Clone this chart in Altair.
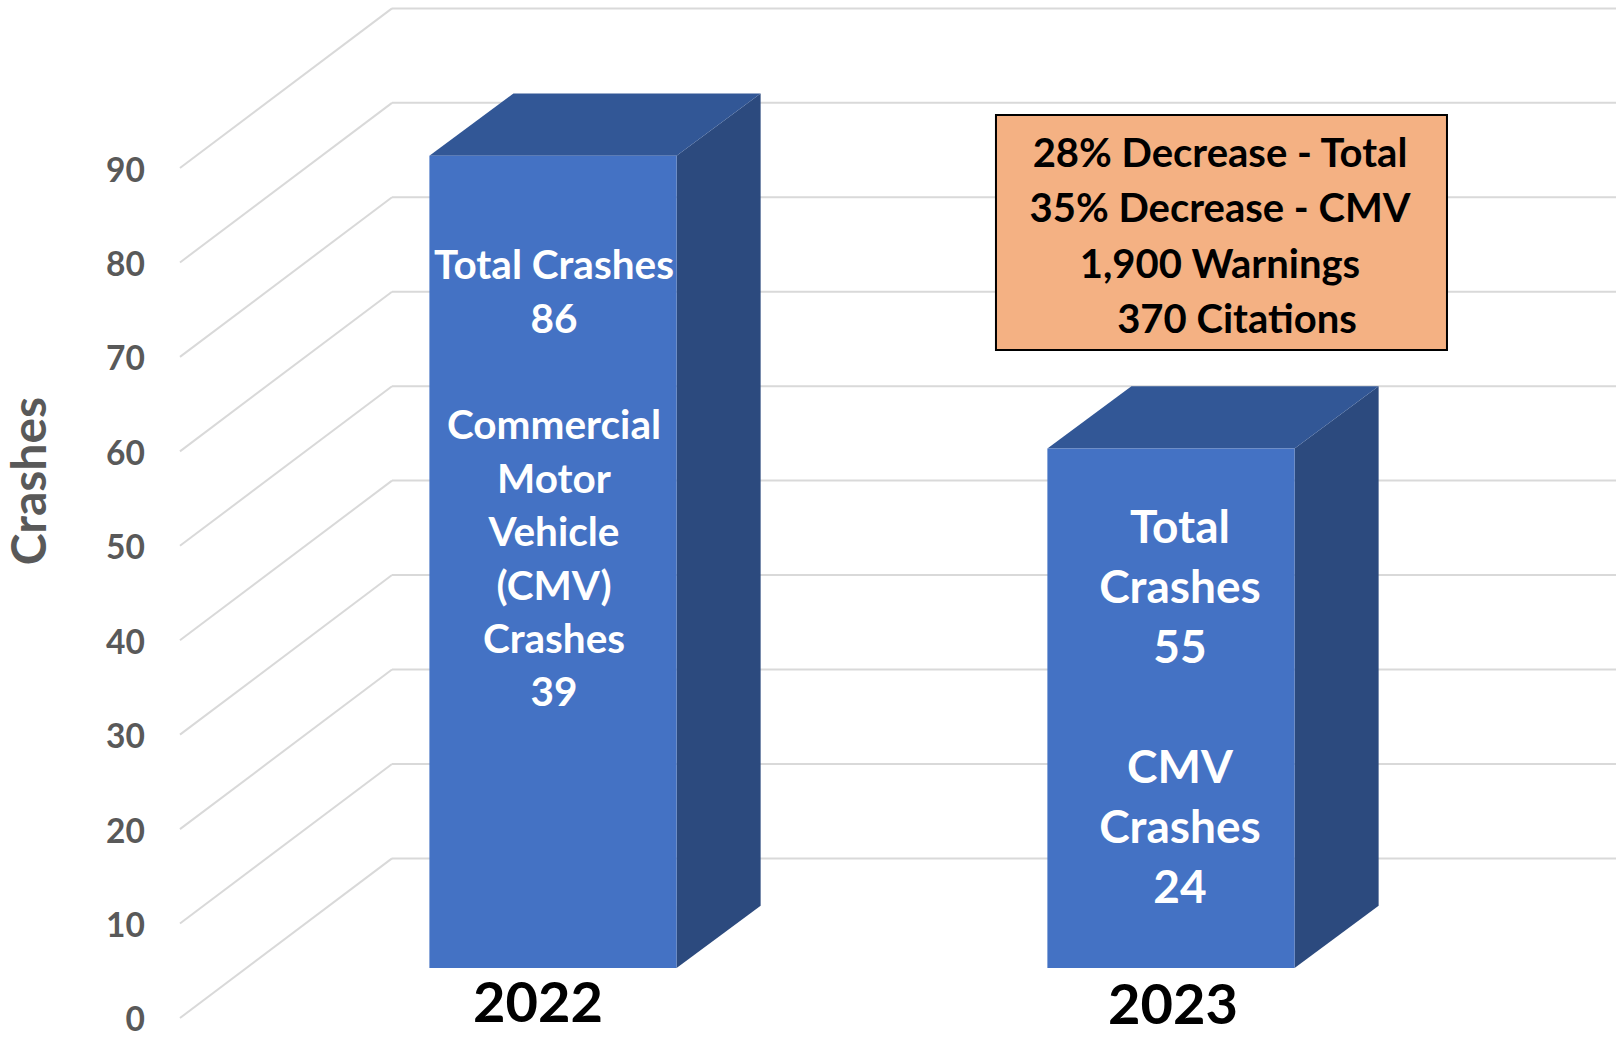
import altair as alt
import pandas as pd

# ---------------- data ----------------
years = ["2022", "2023"]
total_crashes = [86, 55]
cmv_crashes = [39, 24]
y_ticks = [0, 10, 20, 30, 40, 50, 60, 70, 80, 90]
axis_title = "Crashes"
box_lines = ["28% Decrease - Total", "35% Decrease - CMV", "1,900 Warnings", "370 Citations"]
bar_lines = [
    ["Total Crashes", str(total_crashes[0]), "", "Commercial", "Motor", "Vehicle", "(CMV)",
     "Crashes", str(cmv_crashes[0])],
    ["Total", "Crashes", str(total_crashes[1]), "", "CMV", "Crashes", str(cmv_crashes[1])],
]

# ---------------- layout (in scale units) ----------------
PX_PER_X = 618.0          # pixels per category step
PX_PER_Y = 9.444          # pixels per crash
X_DOM = [-0.6521, 1.7201]
Y_DOM = [-2.118, 107.79]
HALF = 0.2                # half width of the front face
DX = 0.136                # 3-D depth, x
DY = 6.6                  # 3-D depth, y
BASE = 5.29               # floor of bars above axis zero
WALL_X0, WALL_X1, WALL_DY = -0.6036, -0.2605, 16.9
LABEL_X = -0.6602
TITLE_X, TITLE_Y = -0.8430, 56.85

FRONT, TOP, SIDE = "#4472C4", "#325796", "#2C4A7E"
GRID = "#D9D9D9"
GREY = "#595959"
FONT = "Lato"

# per-bar text layout: first line offset below bar top, line step, font size, x shift (px)
TXT_TOP_OFF = [-11.8, -8.51]
TXT_STEP = [53.4 / PX_PER_Y, 60.0 / PX_PER_Y]
TXT_SIZE = [40.5, 46]
TXT_SHIFT = [1, 9]
YEAR_SHIFT = [-15, 2]

xs = alt.Scale(domain=X_DOM, nice=False, zero=False)
ys = alt.Scale(domain=Y_DOM, nice=False, zero=False)


def X(f):
    return alt.X(f, scale=xs, axis=None)


def Y(f):
    return alt.Y(f, scale=ys, axis=None, stack=None)


# walls / grid
grid_df = pd.DataFrame({
    "t": y_ticks,
    "x0": [WALL_X0] * len(y_ticks),
    "x1": [WALL_X1] * len(y_ticks),
    "xr": [X_DOM[1]] * len(y_ticks),
    "y1": [t + WALL_DY for t in y_ticks],
    "lx": [LABEL_X] * len(y_ticks),
    "ly": [t - 0.37 for t in y_ticks],
    "lab": [str(t) for t in y_ticks],
})

diag = alt.Chart(grid_df).mark_rule(color=GRID, strokeWidth=2).encode(
    x=X("x0:Q"), x2="x1:Q", y=Y("t:Q"), y2="y1:Q")
hgrid = alt.Chart(grid_df).mark_rule(color=GRID, strokeWidth=2).encode(
    x=X("x1:Q"), x2="xr:Q", y=Y("y1:Q"))
ylabels = alt.Chart(grid_df).mark_text(
    align="right", baseline="middle", font=FONT, fontWeight="bold", fontSize=33.5, color=GREY
).encode(x=X("lx:Q"), y=Y("ly:Q"), text="lab:N")
ytitle = alt.Chart(pd.DataFrame([{"x": TITLE_X, "y": TITLE_Y, "t": axis_title}])).mark_text(
    align="center", baseline="middle", angle=270, font=FONT, fontWeight="bold",
    fontSize=48, color=GREY
).encode(x=X("x:Q"), y=Y("y:Q"), text="t:N")

# bars
front_rows, side_rows, top_rows = [], [], []
for i, (yr, v) in enumerate(zip(years, total_crashes)):
    c = i
    top = v + BASE
    front_rows.append({"bar": yr, "x0": c - HALF, "x1": c + HALF, "y0": BASE, "y1": top})
    side_rows += [
        {"bar": yr, "x": c + HALF, "lo": BASE, "hi": top},
        {"bar": yr, "x": c + HALF + DX, "lo": BASE + DY, "hi": top + DY},
    ]
    top_rows += [
        {"bar": yr, "x": c - HALF, "lo": top, "hi": top},
        {"bar": yr, "x": c - HALF + DX, "lo": top, "hi": top + DY},
        {"bar": yr, "x": c + HALF, "lo": top, "hi": top + DY},
        {"bar": yr, "x": c + HALF + DX, "lo": top + DY, "hi": top + DY},
    ]

front = alt.Chart(pd.DataFrame(front_rows)).mark_rect(color=FRONT).encode(
    x=X("x0:Q"), x2="x1:Q", y=Y("y0:Q"), y2="y1:Q")
side = alt.Chart(pd.DataFrame(side_rows)).mark_area(color=SIDE, orient="vertical").encode(
    x=X("x:Q"), y=Y("lo:Q"), y2="hi:Q", detail="bar:N")
topf = alt.Chart(pd.DataFrame(top_rows)).mark_area(color=TOP, orient="vertical").encode(
    x=X("x:Q"), y=Y("lo:Q"), y2="hi:Q", detail="bar:N")

# bar texts (one row per line)
text_layers = []
for i, lines in enumerate(bar_lines):
    rows = []
    first = total_crashes[i] + BASE + TXT_TOP_OFF[i]
    for k, s in enumerate(lines):
        if s:
            rows.append({"x": i + TXT_SHIFT[i] / PX_PER_X, "y": first - k * TXT_STEP[i], "t": s})
    text_layers.append(
        alt.Chart(pd.DataFrame(rows)).mark_text(
            align="center", baseline="middle", font=FONT, fontWeight="bold",
            fontSize=TXT_SIZE[i], color="white"
        ).encode(x=X("x:Q"), y=Y("y:Q"), text="t:N")
    )

# year labels
yl = pd.DataFrame({"x": [i + YEAR_SHIFT[i] / PX_PER_X for i in range(len(years))],
                   "y": [-0.42, -0.6], "t": years})
year_txt = alt.Chart(yl).mark_text(align="center", baseline="alphabetic", font=FONT,
                                   fontWeight="bold", fontSize=56, color="black").encode(
    x=X("x:Q"), y=Y("y:Q"), text="t:N")

# annotation box
box_df = pd.DataFrame([{"x0": 0.7168, "x1": 1.4466, "y0": 70.73, "y1": 95.62}])
box = alt.Chart(box_df).mark_rect(fill="#F4B183", stroke="black", strokeWidth=2).encode(
    x=X("x0:Q"), x2="x1:Q", y=Y("y0:Q"), y2="y1:Q")
BOX_SHIFT = [0, 0, 0, 17]
box_rows = [{"x": 1.0793 + BOX_SHIFT[k] / PX_PER_X, "y": 91.38 - k * 55.5 / PX_PER_Y, "t": s}
            for k, s in enumerate(box_lines)]
box_txt = alt.Chart(pd.DataFrame(box_rows)).mark_text(
    align="center", baseline="middle", font=FONT, fontWeight="bold",
    fontSize=40, color="black").encode(x=X("x:Q"), y=Y("y:Q"), text="t:N")

chart = alt.layer(diag, hgrid, ylabels, ytitle, side, topf, front, *text_layers,
                  year_txt, box, box_txt).properties(
    width=1466, height=1038,
    padding={"left": 150, "top": 0, "right": 0, "bottom": 0},
    autosize="none",
    background="white",
).configure_view(stroke=None)

chart.save("out.html", embed_options={"renderer": "svg", "actions": False})
